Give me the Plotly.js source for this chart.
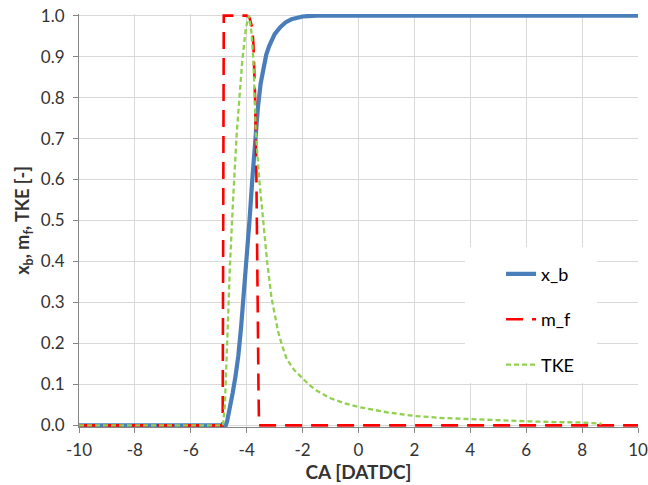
<!DOCTYPE html>
<html>
<head>
<meta charset="utf-8">
<script src="https://cdn.plot.ly/plotly-3.0.1.min.js"></script>
<style>html,body{margin:0;padding:0;background:#fff;}#chart{width:648px;height:485px;}</style>
</head>
<body>
<div id="chart"></div>
<script>
// x_b (burned mass fraction)
const xbCA = [-10, -4.75, -4.7, -4.6, -4.5, -4.4, -4.3, -4.2, -4.1, -4.0, -3.9, -3.8, -3.7, -3.6, -3.5, -3.4, -3.3, -3.2, -3.0, -2.8, -2.6, -2.4, -2.2, -2.0, -1.8, -1.5, 10];
const xbVal = [0, 0, 0.01, 0.04, 0.08, 0.12, 0.17, 0.24, 0.32, 0.40, 0.50, 0.60, 0.70, 0.775, 0.835, 0.875, 0.905, 0.925, 0.955, 0.972, 0.984, 0.991, 0.995, 0.998, 0.999, 1.0, 1.0];

// m_f
const mfCA = [-10, -4.86, -4.82, -4.0, -3.9, -3.8, -3.76, -3.7, -3.66, -3.62, -3.6, -3.58, -3.56, 10];
const mfVal = [0, 0, 1.0, 1.0, 0.995, 0.97, 0.93, 0.80, 0.65, 0.45, 0.25, 0.10, 0, 0];

// TKE
const tkeCA = [-10, -4.85, -4.78, -4.74, -4.6, -4.48, -4.36, -4.16, -4.03, -3.92, -3.83, -3.76, -3.67, -3.55, -3.42, -3.27, -3.11, -2.98, -2.87, -2.72, -2.57, -2.3, -2.0, -1.75, -1.5, -1.0, -0.5, 0, 1, 2, 3, 4, 5, 6, 7, 8, 8.7];
const tkeVal = [0, 0, 0.05, 0.13, 0.39, 0.56, 0.71, 0.889, 0.97, 1.0, 0.96, 0.889, 0.71, 0.60, 0.51, 0.40, 0.31, 0.265, 0.227, 0.192, 0.162, 0.135, 0.115, 0.098, 0.085, 0.066, 0.054, 0.045, 0.032, 0.023, 0.018, 0.015, 0.012, 0.010, 0.008, 0.007, 0.004];

const xTicks = [-10, -8, -6, -4, -2, 0, 2, 4, 6, 8, 10];
const yTicks = [0, 0.1, 0.2, 0.3, 0.4, 0.5, 0.6, 0.7, 0.8, 0.9, 1.0];
const yTickText = ['0.0','0.1','0.2','0.3','0.4','0.5','0.6','0.7','0.8','0.9','1.0'];

const FONT = 'Lato, "Open Sans", "Liberation Sans", sans-serif';

const traces = [
  {x: xbCA, y: xbVal, name: 'x_b', type: 'scatter', mode: 'lines', legendgroup: 'a',
   line: {color: '#4A7EBB', width: 4.2}},
  {x: mfCA, y: mfVal, name: 'm_f', type: 'scatter', mode: 'lines', legendgroup: 'b',
   line: {color: '#FF0000', width: 2.6, dash: '17px,9px'}},
  {x: tkeCA, y: tkeVal, name: 'TKE', type: 'scatter', mode: 'lines', legendgroup: 'c',
   line: {color: '#92D050', width: 2.3, dash: '5px,3px'}}
];

const layout = {
  width: 648, height: 485,
  margin: {l: 79, r: 10, t: 14, b: 58},
  paper_bgcolor: '#fff', plot_bgcolor: '#fff',
  font: {family: FONT, size: 17, color: '#333'},
  showlegend: true,
  legend: {x: 0.755, y: 0.415, xanchor: 'left', yanchor: 'top',
           bgcolor: 'rgba(0,0,0,0)', borderwidth: 0, tracegroupgap: 19,
           font: {family: FONT, size: 18, color: '#000'}},
  shapes: [{type: 'rect', xref: 'paper', yref: 'paper', x0: 0.6905, x1: 0.9267, y0: 0.1065, y1: 0.4358,
            fillcolor: '#fff', line: {width: 0}, layer: 'above'}],
  xaxis: {range: [-10, 10], tickvals: xTicks, ticktext: xTicks.map(String),
          showgrid: true, gridcolor: '#D9D9D9', gridwidth: 1,
          showline: true, linecolor: '#868686', linewidth: 1,
          ticks: 'outside', ticklen: 5, tickcolor: '#868686',
          ticklabelstandoff: 3,
          zeroline: false,
          tickfont: {family: FONT, size: 17, color: '#333'},
          title: {text: '<b>CA [DATDC]</b>', standoff: 4, font: {family: FONT, size: 19, color: '#333'}}},
  yaxis: {range: [-0.004, 1.004], tickvals: yTicks, ticktext: yTickText,
          showgrid: true, gridcolor: '#D9D9D9', gridwidth: 1,
          showline: true, linecolor: '#868686', linewidth: 1,
          ticks: 'outside', ticklen: 5, tickcolor: '#868686',
          ticklabelstandoff: 5,
          zeroline: false,
          tickfont: {family: FONT, size: 17, color: '#333'},
          title: {text: '<b>x<sub>b</sub>, m<sub>f</sub>, TKE [-]</b>', standoff: 6, font: {family: FONT, size: 18, color: '#333'}}}
};

Plotly.newPlot('chart', traces, layout, {displayModeBar: false, staticPlot: true});
</script>
</body>
</html>
